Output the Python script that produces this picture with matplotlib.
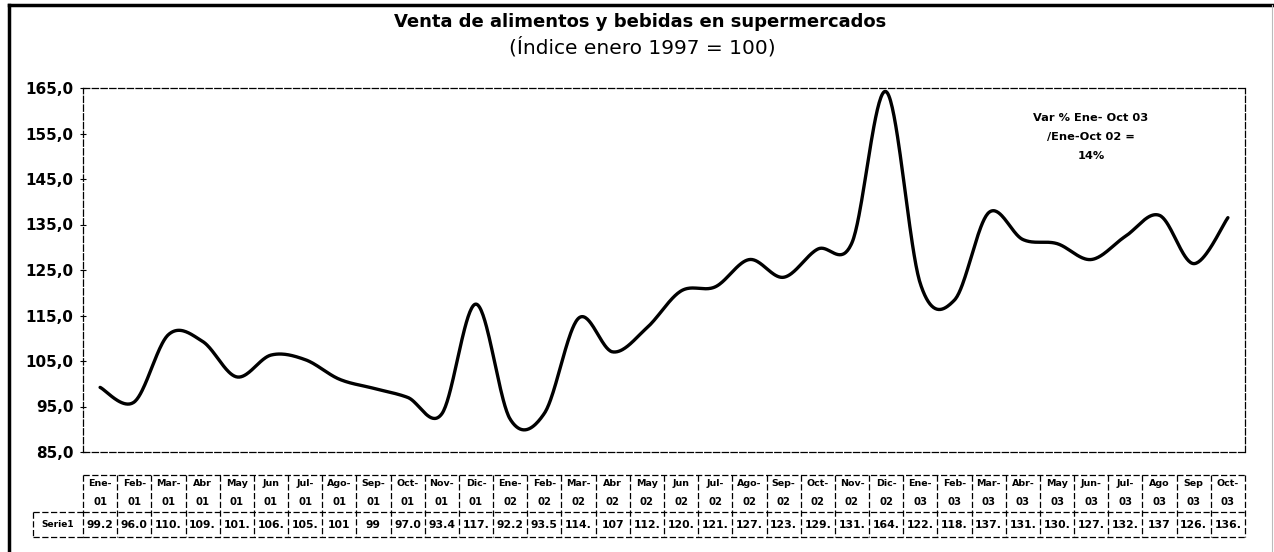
import numpy as np
import matplotlib
matplotlib.use("Agg")
import matplotlib.pyplot as plt
from matplotlib.lines import Line2D

# ---------------- data ----------------
months = ["Ene-", "Feb-", "Mar-", "Abr", "May", "Jun", "Jul-", "Ago-", "Sep-", "Oct-", "Nov-", "Dic-",
          "Ene-", "Feb-", "Mar-", "Abr", "May", "Jun", "Jul-", "Ago-", "Sep-", "Oct-", "Nov-", "Dic-",
          "Ene-", "Feb-", "Mar-", "Abr-", "May", "Jun-", "Jul-", "Ago", "Sep", "Oct-"]
years = ["01"] * 12 + ["02"] * 12 + ["03"] * 10
values = [99.2, 96.0, 110.8, 109.3, 101.5, 106.3, 105.3, 101.0, 99.0, 97.0, 93.4, 117.5,
          92.2, 93.5, 114.4, 107.0, 112.3, 120.4, 121.3, 127.3, 123.4, 129.6, 131.0, 164.2,
          122.0, 118.4, 137.6, 131.7, 130.8, 127.3, 132.4, 137.0, 126.4, 136.5]
table_labels = ["99.2", "96.0", "110.", "109.", "101.", "106.", "105.", "101", "99", "97.0", "93.4", "117.",
                "92.2", "93.5", "114.", "107", "112.", "120.", "121.", "127.", "123.", "129.", "131.", "164.",
                "122.", "118.", "137.", "131.", "130.", "127.", "132.", "137", "126.", "136."]
series_name = "Serie1"
yticks = [85, 95, 105, 115, 125, 135, 145, 155, 165]
title = "Venta de alimentos y bebidas en supermercados"
subtitle = "(Índice enero 1997 = 100)"
note_lines = ["Var % Ene- Oct 03", "/Ene-Oct 02 =", "14%"]

W, H = 1274, 552
fig = plt.figure(figsize=(W / 100, H / 100), dpi=100)
plt.rcParams['font.family'] = ['DejaVu Sans']

def fx(px):
    return px / W

def fy(py):
    return 1 - py / H

L, R, T, B = 83, 1245, 88, 452
ax = fig.add_axes([fx(L), fy(B), fx(R) - fx(L), fy(T) - fy(B)])

n = len(values)
x = np.arange(n) + 0.5
y = np.array(values, dtype=float)

# Excel-like smoothed line (Catmull-Rom Bezier)
xs, ys = [], []
px = np.concatenate([[x[0]], x, [x[-1]]])
py = np.concatenate([[y[0]], y, [y[-1]]])
t = np.linspace(0, 1, 40)
for i in range(n - 1):
    p0x, p1x, p2x, p3x = px[i], px[i + 1], px[i + 2], px[i + 3]
    p0y, p1y, p2y, p3y = py[i], py[i + 1], py[i + 2], py[i + 3]
    b1x = p1x + (p2x - p0x) / 6
    b2x = p2x - (p3x - p1x) / 6
    b1y = p1y + (p2y - p0y) / 6
    b2y = p2y - (p3y - p1y) / 6
    bx = (1 - t) ** 3 * p1x + 3 * (1 - t) ** 2 * t * b1x + 3 * (1 - t) * t ** 2 * b2x + t ** 3 * p2x
    by = (1 - t) ** 3 * p1y + 3 * (1 - t) ** 2 * t * b1y + 3 * (1 - t) * t ** 2 * b2y + t ** 3 * p2y
    xs.extend(bx)
    ys.extend(by)
ax.plot(xs, ys, color="black", lw=2.4, solid_capstyle="round", solid_joinstyle="round")

ax.set_xlim(0, n)
ax.set_ylim(85, 165)
ax.set_yticks(yticks)
ax.set_yticklabels([f"{v:.1f}".replace(".", ",") for v in yticks], fontsize=11, fontweight="bold")
ax.set_xticks([])
ax.tick_params(axis="y", length=4, width=0.8, direction="inout", pad=5)
dash = (0, (5, 2))
for s in ax.spines.values():
    s.set_linestyle(dash)
    s.set_linewidth(0.9)

# Title
fig.text(fx(640), fy(22), title, ha="center", va="center", fontsize=13, fontweight="bold")
fig.text(fx(642), fy(47), subtitle, ha="center", va="center", fontsize=14.5)
# annotation
for k, line in enumerate(note_lines):
    fig.text(fx(1091), fy(118 + 19 * k), line, ha="center", va="center", fontsize=8.2,
             fontweight="bold")

# ---------------- data table ----------------
tT, tM, tB = 475, 512, 537
tax = fig.add_axes([fx(L), fy(tB), fx(R) - fx(L), fy(tT) - fy(tB)])
tax.set_xlim(0, n)
tax.set_ylim(0, tB - tT)
tax.invert_yaxis()
tax.axis("off")
kw = dict(color="black", lw=0.9, linestyle=dash, clip_on=False)
hgt = tB - tT
mid = tM - tT
tax.plot([0, n], [0, 0], **kw)
tax.plot([0, n], [mid, mid], **kw)
tax.plot([0, n], [hgt, hgt], **kw)
for i in range(n + 1):
    tax.plot([i, i], [0, hgt], **kw)
for i in range(n):
    tax.text(i + 0.5, 9, months[i], ha="center", va="center", fontsize=6.8, fontweight="bold")
    tax.text(i + 0.5, 27, years[i], ha="center", va="center", fontsize=7.3, fontweight="bold")
    tax.text(i + 0.5, (mid + hgt) / 2, table_labels[i], ha="center", va="center",
             fontsize=7.8, fontweight="bold")
# Series label cell
sx0 = (33 - L) / ((R - L) / n)
tax.plot([sx0, 0], [mid, mid], **kw)
tax.plot([sx0, 0], [hgt, hgt], **kw)
tax.plot([sx0, sx0], [mid, hgt], **kw)
tax.text((sx0) / 2, (mid + hgt) / 2, series_name, ha="center", va="center", fontsize=6.5,
         fontweight="bold")

# outer frame
fig.add_artist(Line2D([fx(9), fx(9)], [fy(5), 0], color="black", lw=2.5))
fig.add_artist(Line2D([fx(9), fx(1273)], [fy(5), fy(5)], color="black", lw=2.5))
fig.add_artist(Line2D([fx(1272), fx(1272)], [fy(5), 0], color="#bbbbbb", lw=0.8))

fig.savefig("out.png", dpi=100)
